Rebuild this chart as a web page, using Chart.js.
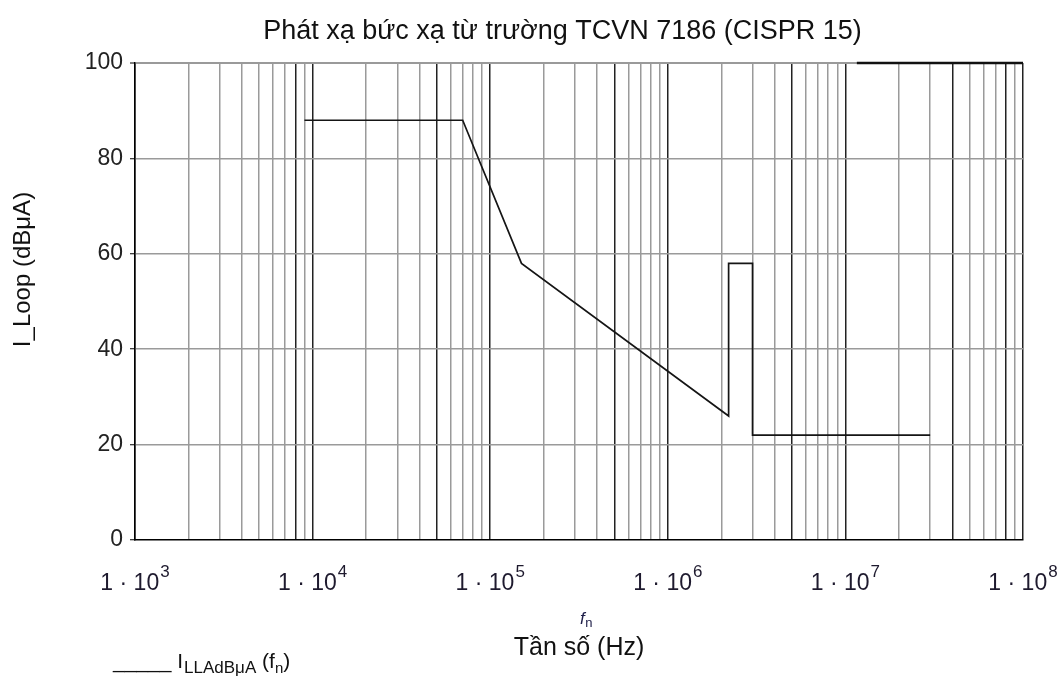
<!DOCTYPE html>
<html>
<head>
<meta charset="utf-8">
<script src="https://cdn.jsdelivr.net/npm/chart.js@4.4.1/dist/chart.umd.min.js"></script>
<style>
html,body{margin:0;padding:0;background:#fff;}
#wrap{width:1060px;height:681px;position:relative;}
</style>
</head>
<body>
<div id="wrap"><canvas id="c" width="1060" height="681"></canvas></div>
<script>
// ---- texts ----
const chartTitle = 'Phát xạ bức xạ từ trường TCVN 7186 (CISPR 15)';
const yAxisTitle = 'I_Loop (dBμA)';
const xAxisTitle = 'Tần số (Hz)';
const xVarMain = 'f';
const xVarSub = 'n';
const legendLead = '_____ I';
const legendSub = 'LLAdBμA';
const legendArgOpen = ' (f';
const legendArgSub = 'n';
const legendArgClose = ')';

// ---- data ----
const freqHz    = [9e3, 7e4, 1.5e5, 2.2e6, 2.2e6, 3e6, 3e6, 3e7];
const limitDbuA = [88,  88,  58,    26,    58,    58,  22,  22];

// ---- ticks ----
const xDecades       = [1e3, 1e4, 1e5, 1e6, 1e7, 1e8];
const xTickBase      = '1 · 10';
const xTickExponents = ['3', '4', '5', '6', '7', '8'];
const yTicks         = [0, 20, 40, 60, 80, 100];

// ---- style ----
const FONT = "'Liberation Sans', Arial, Helvetica, sans-serif";
const DARK_GRID_X = [8e3, 5e4, 5e5, 5e6, 4e7, 8e7];
const TOP_DARK_FROM = 1.16e7;
const near = (a, b) => Math.abs(a / b - 1) < 1e-6;
const isDecade = v => xDecades.some(d => near(v, d));
const isDarkX = v => isDecade(v) || DARK_GRID_X.some(d => near(v, d));

Chart.defaults.font.family = FONT;

const textPlugin = {
  id: 'extraText',
  beforeDatasetsDraw(chart) {
    const ctx = chart.ctx, a = chart.chartArea, xs = chart.scales.x;
    ctx.save();
    ctx.strokeStyle = '#111';
    ctx.lineWidth = 2.5;
    ctx.beginPath();
    ctx.moveTo(xs.getPixelForValue(TOP_DARK_FROM), a.top);
    ctx.lineTo(a.right, a.top);
    ctx.stroke();
    ctx.restore();
  },
  afterDraw(chart) {
    const ctx = chart.ctx;
    const xs = chart.scales.x;
    ctx.save();
    ctx.fillStyle = '#111';
    ctx.textBaseline = 'alphabetic';
    // main title
    ctx.textAlign = 'center';
    ctx.font = '27px ' + FONT;
    ctx.fillText(chartTitle, 562.5, 39);
    // y axis title
    ctx.save();
    ctx.translate(30, 269.5);
    ctx.rotate(-Math.PI / 2);
    ctx.font = '24px ' + FONT;
    ctx.fillText(yAxisTitle, 0, 0);
    ctx.restore();
    // x tick labels with superscript exponents
    ctx.textAlign = 'left';
    ctx.fillStyle = '#1e1a2e';
    xDecades.forEach((d, i) => {
      const px = xs.getPixelForValue(d);
      ctx.font = '23px ' + FONT;
      const wb = ctx.measureText(xTickBase).width;
      ctx.font = '17px ' + FONT;
      const we = ctx.measureText(xTickExponents[i]).width;
      const x0 = px - (wb + we + 1) / 2;
      ctx.font = '23px ' + FONT;
      ctx.fillText(xTickBase, x0, 590);
      ctx.font = '17px ' + FONT;
      ctx.fillText(xTickExponents[i], x0 + wb + 1, 577);
    });
    // f_n variable above x title
    ctx.fillStyle = '#20204a';
    ctx.font = 'italic 17px ' + FONT;
    ctx.fillText(xVarMain, 580, 624);
    const w = ctx.measureText(xVarMain).width;
    ctx.font = '13px ' + FONT;
    ctx.fillText(xVarSub, 580 + w + 0.5, 627);
    // legend
    ctx.fillStyle = '#111';
    let x = 113;
    ctx.font = '21px ' + FONT;
    ctx.fillText(legendLead, x, 668);
    x += ctx.measureText(legendLead).width + 1;
    ctx.font = '17px ' + FONT;
    ctx.fillText(legendSub, x, 673);
    x += ctx.measureText(legendSub).width;
    ctx.font = '21px ' + FONT;
    ctx.fillText(legendArgOpen, x, 668);
    x += ctx.measureText(legendArgOpen).width;
    ctx.font = '15px ' + FONT;
    ctx.fillText(legendArgSub, x, 673);
    x += ctx.measureText(legendArgSub).width;
    ctx.font = '21px ' + FONT;
    ctx.fillText(legendArgClose, x, 668);
    ctx.restore();
  }
};

new Chart(document.getElementById('c'), {
  type: 'scatter',
  data: {
    datasets: [{
      label: 'I_LLAdBμA (f_n)',
      data: freqHz.map((f, i) => ({ x: f, y: limitDbuA[i] })),
      showLine: true,
      borderColor: '#151515',
      borderWidth: 1.7,
      pointRadius: 0,
      tension: 0,
      fill: false
    }]
  },
  options: {
    responsive: false,
    devicePixelRatio: 1,
    animation: false,
    layout: { padding: { top: 63, right: 37, left: 0, bottom: 0 } },
    plugins: { legend: { display: false }, title: { display: false }, tooltip: { enabled: false } },
    scales: {
      x: {
        type: 'logarithmic',
        min: xDecades[0],
        max: xDecades[xDecades.length - 1],
        afterBuildTicks(scale) {
          const t = [];
          for (let i = 0; i < xDecades.length - 1; i++) {
            for (let k = 1; k <= 9; k++) t.push({ value: k * xDecades[i] });
          }
          t.push({ value: xDecades[xDecades.length - 1] });
          scale.ticks = t;
        },
        afterFit(scale) { scale.height = 141; scale.paddingLeft = 0; scale.paddingRight = 0; },
        grid: {
          color: c => (c.tick && isDarkX(c.tick.value)) ? '#222' : '#9a9a9a',
          lineWidth: 1.5,
          drawTicks: false
        },
        border: { display: true, color: '#000', width: 1.5 },
        ticks: { display: false, autoSkip: false, maxRotation: 0, minRotation: 0 },
        title: { display: true, text: xAxisTitle, color: '#111', font: { size: 25 }, padding: { top: 0, bottom: 18 } }
      },
      y: {
        min: 0, max: 100,
        afterBuildTicks(scale) { scale.ticks = yTicks.map(v => ({ value: v })); },
        afterFit(scale) { scale.width = 135; },
        grid: {
          color: c => (c.tick && c.tick.value === 0) ? 'rgba(0,0,0,0)' : '#9a9a9a',
          lineWidth: c => (c.tick && c.tick.value === 100) ? 2 : 1.5,
          drawTicks: true, tickLength: 5, tickColor: '#000', tickWidth: 1
        },
        border: { display: true, color: '#000', width: 1.5 },
        ticks: { padding: 7, color: '#222', font: { size: 23 } }
      }
    }
  },
  plugins: [textPlugin]
});
</script>
</body>
</html>
